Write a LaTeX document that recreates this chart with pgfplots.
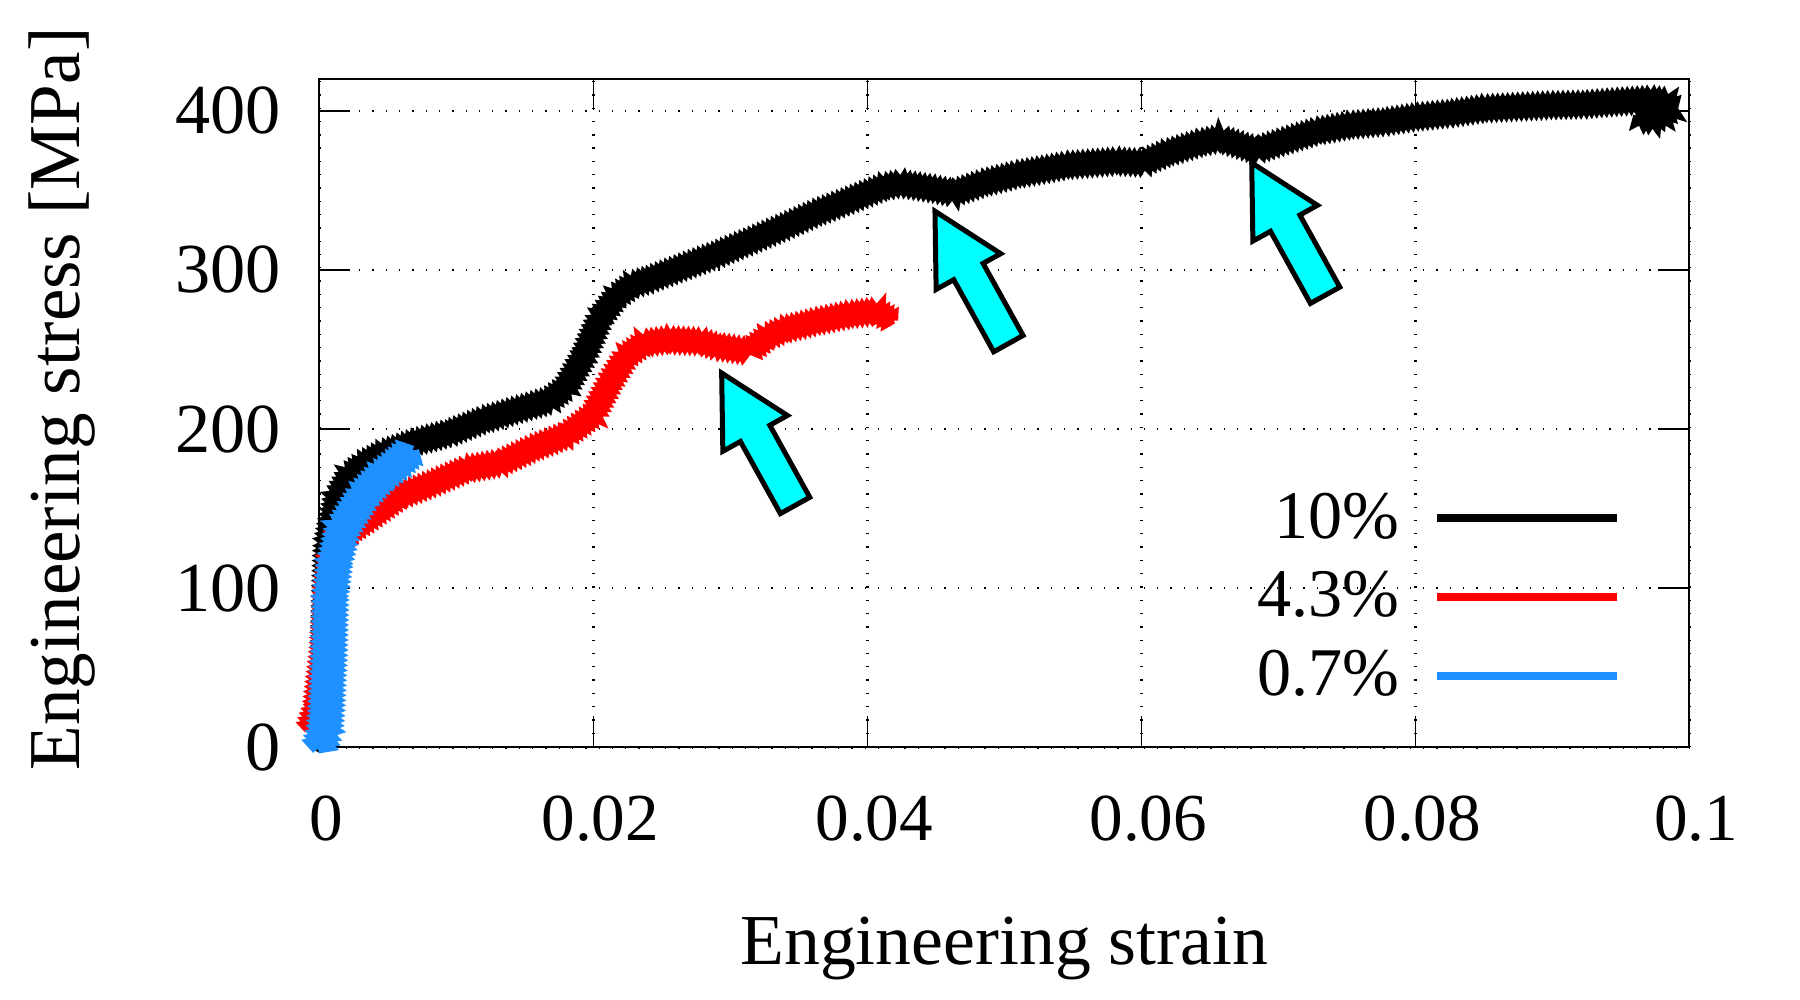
\documentclass[border=0pt]{standalone}
\usepackage{fontspec}
\setmainfont{Liberation Serif}
\usepackage{pgfplots}
\pgfplotsset{compat=1.18}
\usetikzlibrary{decorations.pathmorphing}

\definecolor{curveblue}{RGB}{30,144,255}
\definecolor{arrowcyan}{RGB}{0,255,255}

\tikzset{
  noisy/.style={decorate, decoration={zigzag, segment length=0.05cm, amplitude=0.023cm}, line join=miter, miter limit=4},
  blockarrow/.style={draw=black, line width=0.05cm, fill=arrowcyan, line join=miter},
}

\begin{document}
\begin{tikzpicture}
\path (0,0) rectangle (18cm,10cm);
\begin{axis}[
  at={(3.193cm,2.527cm)}, anchor=south west,
  scale only axis, width=13.70cm, height=6.683cm,
  xmin=0, xmax=0.1, ymin=0, ymax=420,
  clip=false,
  axis line style={line width=0.02cm, black},
  xtick={0,0.02,0.04,0.06,0.08,0.1},
  xticklabels={0,0.02,0.04,0.06,0.08,0.1},
  ytick={0,100,200,300,400},
  yticklabels={0,100,200,300,400},
  tick align=inside, major tick length=0.31cm,
  tick style={line width=0.015cm, black},
  grid=major,
  grid style={line width=0.025cm, dash pattern=on 0.013cm off 0.12cm, black},
  /pgf/number format/assume math mode=true,
  tick label style={font=\fontsize{19.1}{23}\selectfont},
  xticklabel style={xshift=0.07cm, yshift=-0.36cm},
  yticklabel style={xshift=-0.26cm, font=\fontsize{20}{24}\selectfont},
  xlabel={Engineering strain},
  ylabel={Engineering stress [MPa]},
  xlabel style={at={(axis description cs:0.5,0)}, anchor=base, yshift=-2.177cm, font=\fontsize{20.4}{24}\selectfont},
  ylabel style={at={(axis description cs:-0.1747,0.521)}, anchor=base, font=\fontsize{20.8}{24}\selectfont},
  legend style={draw=none, fill=none, at={(axis description cs:0.950,0.3805)}, anchor=north east,
    inner sep=0pt, outer sep=0pt, row sep=0.28cm, column sep=0.33cm,
    font=\fontsize{19.4}{23}\selectfont, nodes={inner sep=0pt}},
  legend cell align=right,
  legend plot pos=right,
  legend image code/.code={\draw[#1, line width=0.08cm] (0cm,0cm) -- (1.8cm,0cm);},
]

% 10% sample
\addplot[black, line width=0.125cm, noisy, forget plot] coordinates {
  (0.0002,0) (0.0004,50) (0.0005,100) (0.0006,128) (0.0013,157) (0.0022,171)
  (0.0032,178) (0.0047,185) (0.0071,192) (0.0095,197.5) (0.0120,205.8)
  (0.0144,212) (0.0168,218) (0.0180,226) (0.0193,245.7) (0.0205,269.8)
  (0.0217,283.4) (0.0229,290.8) (0.0241,294) (0.0266,302) (0.0290,309.6)
  (0.0314,318) (0.0339,327) (0.0363,336) (0.0387,343.8) (0.0412,352.2)
  (0.0424,354.3) (0.0448,351) (0.0463,348.4) (0.0485,354.7) (0.0509,360)
  (0.0546,365.8) (0.0582,368.3) (0.0601,367.3) (0.0619,373.6) (0.0643,379.9)
  (0.0657,382.6) (0.0684,375.2) (0.0704,380.9) (0.0728,387.2) (0.0752,391)
  (0.0777,393) (0.0801,396.2) (0.0825,398.3) (0.0850,401.4) (0.0874,402.5)
  (0.0898,403.5) (0.0923,404) (0.0947,405.6) (0.0971,407) (0.0983,406)
  (0.0988,402) (0.0982,397) (0.0974,394) (0.0966,394.5) (0.0963,397)
};

% 4.3% sample
\addplot[red, line width=0.125cm, noisy, forget plot] coordinates {
  (-0.0007,12) (-0.0002,25) (0.0003,60) (0.0006,100) (0.0009,118) (0.0015,130)
  (0.0025,137) (0.0035,143) (0.0059,158) (0.0083,166) (0.0108,175)
  (0.0132,178.6) (0.0156,188) (0.0181,196.4) (0.0200,209) (0.0212,229)
  (0.0224,245.7) (0.0237,254) (0.0254,256) (0.0278,255) (0.0290,252)
  (0.0314,248.8) (0.0327,258) (0.0339,262.5) (0.0363,267.7) (0.0387,272)
  (0.0407,274) (0.0419,267.7)
};

% 0.7% sample
\addplot[curveblue, line width=0.165cm, noisy, forget plot] coordinates {
  (0.0000,0) (0.0004,10) (0.0005,22) (0.0007,60) (0.0008,95) (0.0011,116)
  (0.0017,137) (0.0032,158) (0.0045,170) (0.0058,179) (0.0068,187)
};

\addlegendimage{black}
\addlegendentry{10\%}
\addlegendimage{red}
\addlegendentry{4.3\%}
\addlegendimage{curveblue}
\addlegendentry{0.7\%}

% arrows marking the load drops
\draw[blockarrow, shift={(axis cs:0.02937,235.2)}, rotate=-61]
  (0cm,0cm) -- (0.69cm,0.369cm) -- (0.69cm,0.168cm) -- (1.514cm,0.168cm)
  -- (1.514cm,-0.168cm) -- (0.69cm,-0.168cm) -- (0.69cm,-0.369cm) -- cycle;
\draw[blockarrow, shift={(axis cs:0.04494,336.9)}, rotate=-61]
  (0cm,0cm) -- (0.69cm,0.369cm) -- (0.69cm,0.168cm) -- (1.514cm,0.168cm)
  -- (1.514cm,-0.168cm) -- (0.69cm,-0.168cm) -- (0.69cm,-0.369cm) -- cycle;
\draw[blockarrow, shift={(axis cs:0.06806,367.3)}, rotate=-61]
  (0cm,0cm) -- (0.69cm,0.369cm) -- (0.69cm,0.168cm) -- (1.514cm,0.168cm)
  -- (1.514cm,-0.168cm) -- (0.69cm,-0.168cm) -- (0.69cm,-0.369cm) -- cycle;
\end{axis}
\end{tikzpicture}
\end{document}
